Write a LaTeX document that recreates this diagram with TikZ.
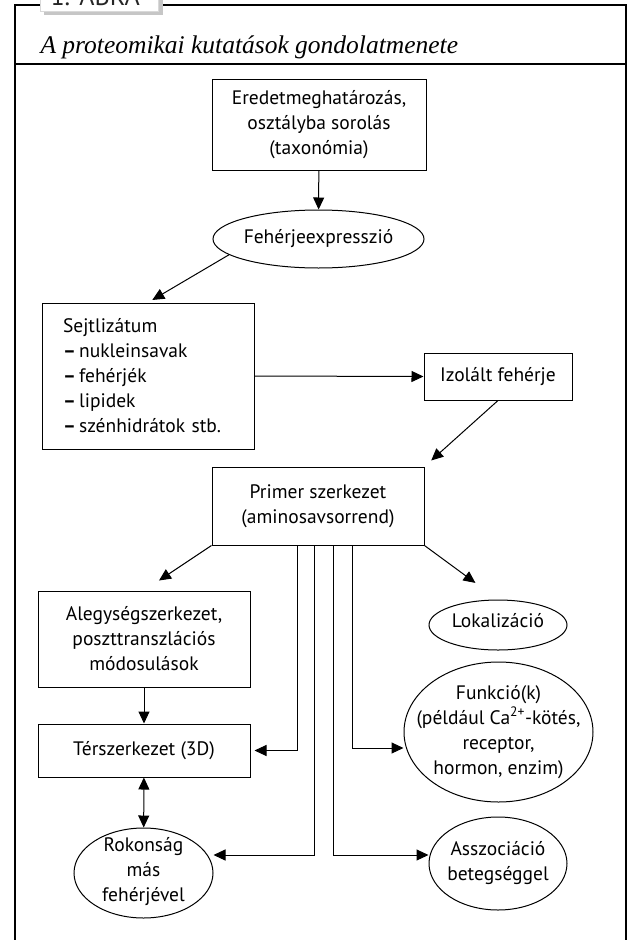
\documentclass[tikz,border=0pt]{standalone}
\usepackage{fontspec}
\setmainfont{PT Sans}
\newfontfamily\titlefont{Liberation Serif}
\usetikzlibrary{shapes.geometric,arrows.meta}

\begin{document}
\begin{tikzpicture}[x=1pt,y=-1pt,font=\fontsize{19.5}{25}\selectfont,line width=1pt,
	>={Triangle[length=12pt,width=11pt]},
	box/.style={draw,rectangle,inner sep=0pt,align=center},
	oval/.style={draw,ellipse,inner sep=-30pt,align=center}]
	\useasboundingbox (0,0) rectangle (631,940);

	% draw frame
	\draw[line width=1.2pt] (15,945) -- (15,5) -- (626,5) -- (626,945);
	\draw[line width=1.2pt] (15,64) -- (626,64);

	% draw tab
	\fill[gray!45] (44,-5) rectangle (163,15);
	\filldraw[fill=white,draw=gray!30,line width=.6pt] (40,-5) rectangle (158,11);
	\node[anchor=base west,inner sep=0pt,text=black!85,font=\fontsize{26}{26}\selectfont] (tab) at (50,5) {1. ÁBRA};

	% title
	\node[anchor=base west,inner sep=0pt,font=\titlefont\itshape\fontsize{25.5}{25.5}\selectfont] (title) at (40,53) {A proteomikai kutatások gondolatmenete};

	% draw boxes
	\node[box,minimum width=214pt,minimum height=91pt] (tax) at (319,124.5) {Eredetmeghatározás,\\osztályba sorolás\\(taxonómia)};
	\node[oval,minimum width=211pt,minimum height=58pt] (expr) at (318.5,239) {Fehérjeexpresszió};
	\node[box,align=left,text width=170pt,inner xsep=21pt,minimum height=146pt] (lyz) at (148,376) {Sejtlizátum\\\textbf{–}\,nukleinsavak\\\textbf{–}\,fehérjék\\\textbf{–}\,lipidek\\\textbf{–}\,szénhidrátok stb.};
	\node[box,minimum width=148pt,minimum height=47pt] (izo) at (498,376.5) {Izolált fehérje};
	\node[box,minimum width=212pt,minimum height=78pt] (prim) at (318,506) {Primer szerkezet\\(aminosavsorrend)};
	\node[box,minimum width=212pt,minimum height=96pt] (aleg) at (144,639) {Alegységszerkezet,\\poszttranszlációs\\módosulások};
	\node[box,minimum width=212pt,minimum height=53pt] (ter) at (144,750.5) {Térszerkezet (3D)};
	\node[oval,minimum width=139pt,minimum height=90pt,text depth=8pt] (rok) at (143.5,873) {Rokonság\\más\\fehérjével};
	\node[oval,minimum width=138pt,minimum height=50pt,text depth=10pt] (lok) at (498,625) {Lokalizáció};
	\node[oval,minimum width=189pt,minimum height=140pt] (fun) at (498.5,732) {Funkció(k)\\(például Ca\textsuperscript{2+}-kötés,\\receptor,\\hormon, enzim)};
	\node[oval,minimum width=138pt,minimum height=93pt] (assz) at (498,863.5) {Asszociáció\\betegséggel};

	% branch points under the primary structure
	\coordinate (b1) at ([xshift=-21pt]prim.south);
	\coordinate (b2) at ([xshift=-4pt]prim.south);
	\coordinate (b3) at ([xshift=15pt]prim.south);
	\coordinate (b4) at ([xshift=34pt]prim.south);

	% draw arrows
	\draw[->] (tax) -- (expr);
	\draw[->,shorten >=5pt] (expr.190) -- (lyz.north);
	\draw[->] (lyz.east) -- (izo.west);
	\draw[->,shorten >=9pt] (izo.south) -- (prim.north east);
	\draw[->,shorten >=18pt] (prim.south west) -- (aleg.north);
	\draw[->,shorten >=28pt] (prim.south east) -- (lok.north);
	\draw[->] (aleg) -- (ter);
	\draw[<->] (ter) -- (rok);
	\draw[->,shorten >=4pt] (b1) |- (ter.east);
	\draw[->] (b2) |- (rok.east |- 0,855);
	\draw[->] (b3) |- (assz.west |- 0,855);
	\draw[->] (b4) |- (fun.west |- 0,748);
\end{tikzpicture}
\end{document}
